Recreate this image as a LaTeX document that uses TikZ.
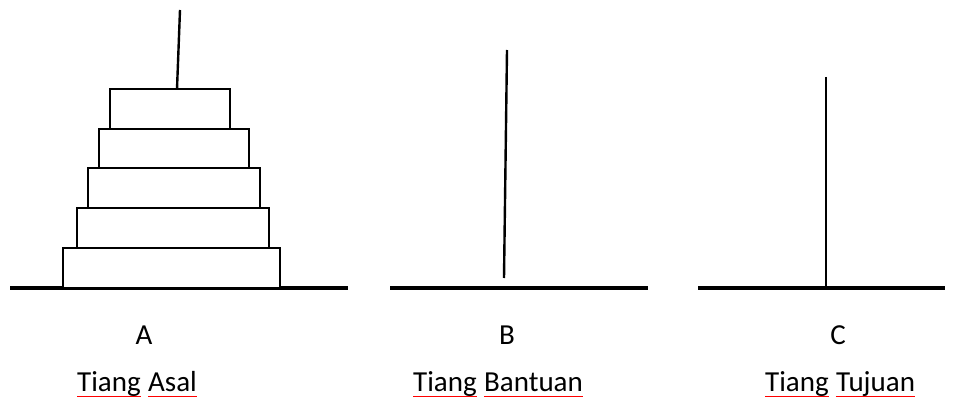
\documentclass[tikz,border=0pt]{standalone}
\usepackage{fontspec}
\setmainfont{Carlito}
\usetikzlibrary{calc}
\tikzset{
  base/.style={line width=4pt},
  pole/.style={line width=2.4pt},
  disk/.style={draw, line width=2.2pt, fill=white},
  letter/.style={font=\fontsize{29}{31}\selectfont, inner sep=0pt, anchor=base},
  lbl/.style={font=\fontsize{29}{31}\selectfont, inner sep=0pt, anchor=base west},
  uline/.style={red, line width=1pt}
}
\begin{document}
\begin{tikzpicture}[x=1pt,y=-1pt]
\useasboundingbox (0,0) rectangle (955,398);
% bases
\coordinate (a0) at (10,288); \coordinate (a1) at (348,288);
\coordinate (b0) at (390,288); \coordinate (b1) at (648,288);
\coordinate (c0) at (698,288); \coordinate (c1) at (945,288);
\draw[base] (a0) -- (a1);
\draw[base] (b0) -- (b1);
\draw[base] (c0) -- (c1);
% poles
\coordinate (pat) at (180,10); \coordinate (pab) at (177,89);
\coordinate (pbt) at (507,50); \coordinate (pbb) at (504,278);
\coordinate (pct) at (826,77); \coordinate (pcb) at (826,288);
\draw[pole] (pat) -- (pab);
\draw[pole] (pbt) -- (pbb);
\draw[pole] (pct) -- (pcb);
% disks
\draw[disk] (63,248) rectangle (280,288);
\draw[disk] (77,208) rectangle (269,248);
\draw[disk] (88,168) rectangle (260,208);
\draw[disk] (99,129) rectangle (249,168);
\draw[disk] (110,89) rectangle (230,129);
% letters
\node[letter] (la) at (144,344) {A};
\node[letter] (lb) at (507,344) {B};
\node[letter] (lc) at (838,344) {C};
% labels
\node[lbl] (t1) at (77,391) {Tiang};
\node[lbl] (w1) at ($(t1.base east)+(7,0)$) {Asal};
\node[lbl] (t2) at (413,391) {Tiang};
\node[lbl] (w2) at ($(t2.base east)+(7,0)$) {Bantuan};
\node[lbl] (t3) at (765,391) {Tiang};
\node[lbl] (w3) at ($(t3.base east)+(7,0)$) {Tujuan};
\foreach \n in {t1,w1,t2,w2,t3,w3}
  \draw[uline] ([yshift=-5pt]\n.base west) -- ([yshift=-5pt]\n.base east);
\end{tikzpicture}
\end{document}
